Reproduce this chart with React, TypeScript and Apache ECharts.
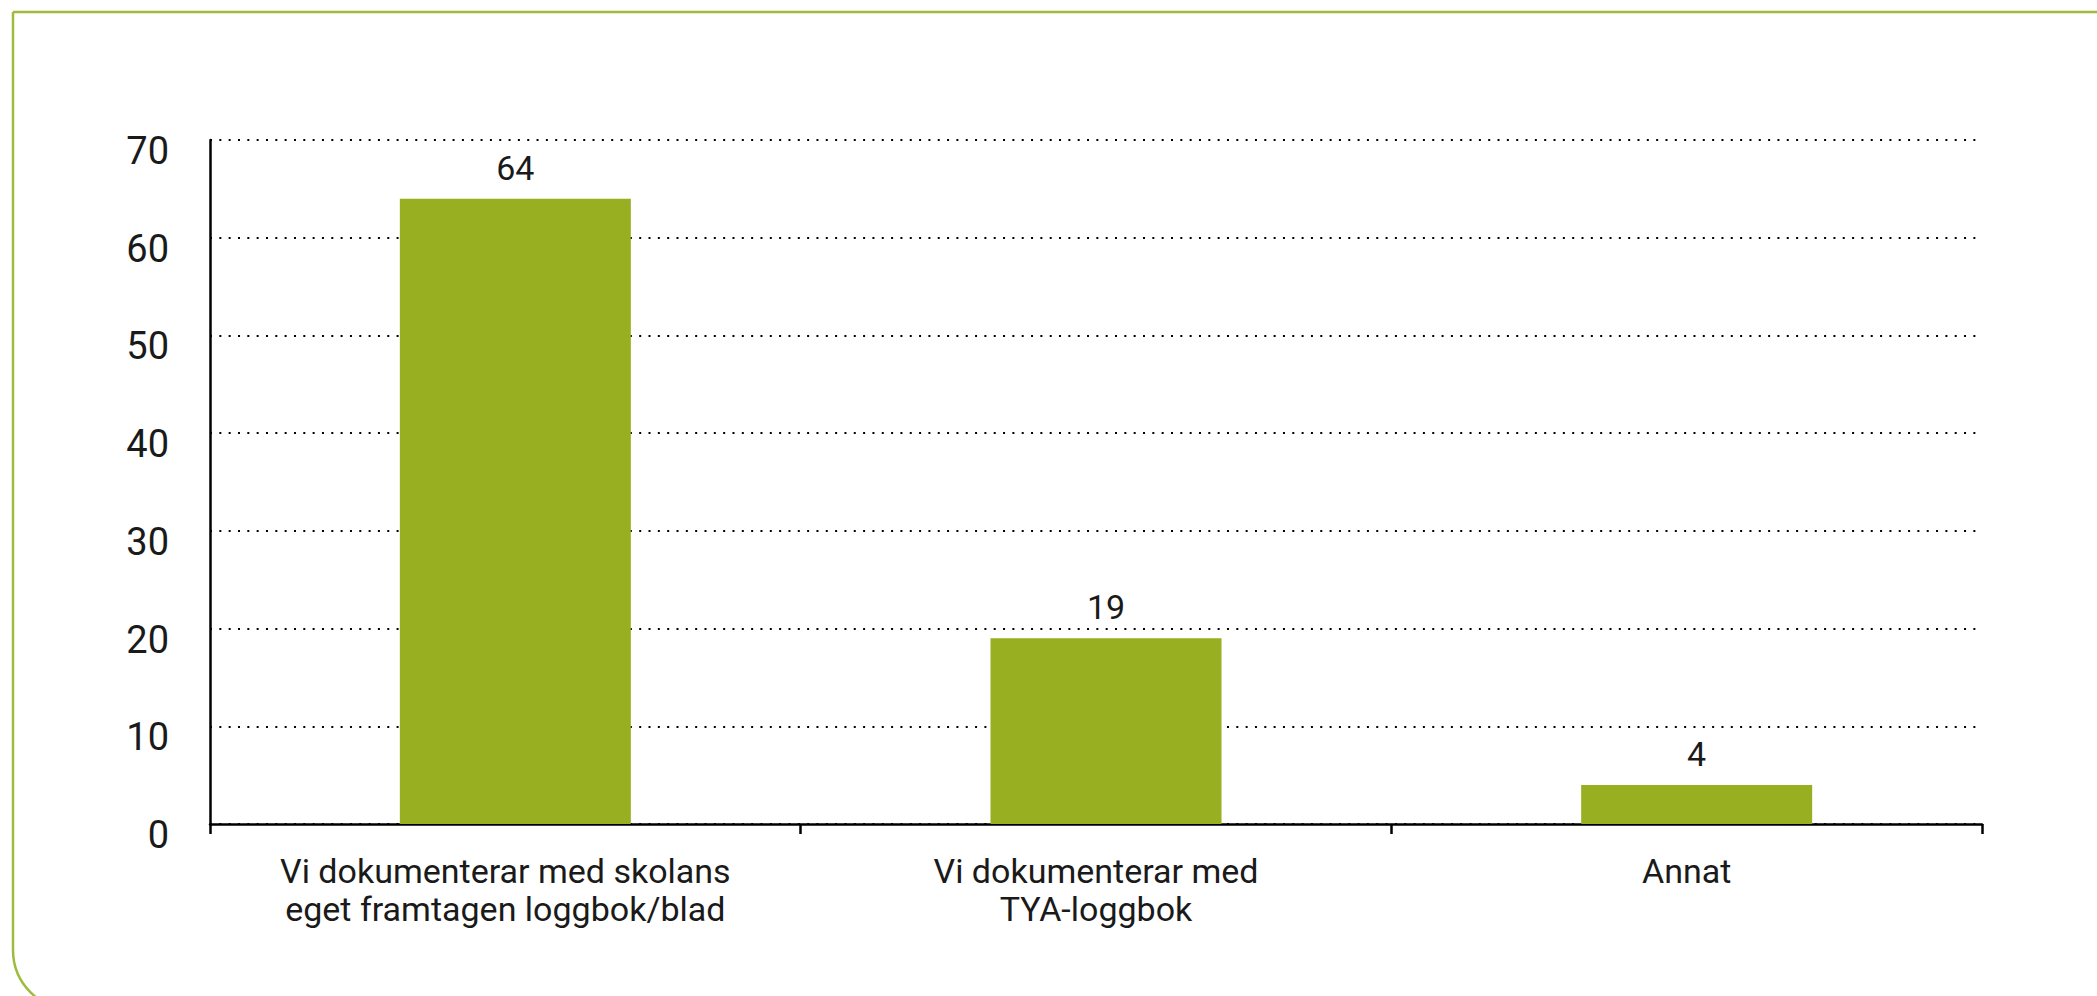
import { useEffect, useRef } from "react";
import * as echarts from "echarts";

const categories = [
  "Vi dokumenterar med skolans\neget framtagen loggbok/blad",
  "Vi dokumenterar med\nTYA-loggbok",
  "Annat",
];
const values = [64, 19, 4];
const yMin = 0;
const yMax = 70;
const yStep = 10;

const FONT = "Roboto, 'Noto Sans', sans-serif";
const TEXT = "#1a1a1a";
const BAR = "#97AF21";
const FRAME = "#9DBB3C";

export default function App() {
  const ref = useRef<HTMLDivElement>(null);
  useEffect(() => {
    const chart = echarts.init(ref.current as HTMLDivElement, null, { renderer: "svg" });
    chart.setOption({
      animation: false,
      backgroundColor: "#ffffff",
      grid: { left: 210, right: 115, top: 140, bottom: 172, containLabel: false },
      graphic: [
        {
          type: "rect",
          silent: true,
          z: -10,
          shape: { x: 13, y: 12, width: 2300, height: 998, r: [0, 0, 0, 60] },
          style: { fill: "transparent", stroke: FRAME, lineWidth: 2.5 },
        },
      ],
      xAxis: {
        type: "category",
        data: categories,
        axisLine: { show: true, lineStyle: { color: "#000", width: 2.5 } },
        axisTick: { show: true, alignWithLabel: false, length: 10, lineStyle: { color: "#000", width: 2.5 } },
        axisLabel: {
          color: TEXT,
          fontFamily: FONT,
          fontSize: 34,
          lineHeight: 38,
          margin: 28,
          interval: 0,
        },
        splitLine: { show: false },
      },
      yAxis: {
        type: "value",
        min: yMin,
        max: yMax,
        interval: yStep,
        axisLine: { show: true, lineStyle: { color: "#000", width: 2.5 } },
        axisTick: { show: false },
        axisLabel: {
          color: TEXT,
          fontFamily: FONT,
          fontSize: 38,
          margin: 41,
          verticalAlign: "top",
          lineHeight: 22,
        },
        splitLine: {
          show: true,
          lineStyle: { color: "#000", width: 2, type: [2, 7.33] },
        },
      },
      series: [
        {
          type: "bar",
          data: values.map(() => "-"),
          barWidth: 20,
          barGap: "0%",
          silent: true,
          itemStyle: { color: "transparent" },
        },
        {
          type: "bar",
          data: values,
          barWidth: 231,
          barGap: "0%",
          itemStyle: { color: BAR },
          label: {
            show: true,
            position: "top",
            distance: 14,
            color: TEXT,
            fontFamily: FONT,
            fontSize: 34,
          },
        },
      ],
    });
    return () => chart.dispose();
  }, []);
  return (
    <div
      ref={ref}
      style={{ position: "fixed", left: 0, top: 0, width: 2097, height: 996, background: "#fff" }}
    />
  );
}
